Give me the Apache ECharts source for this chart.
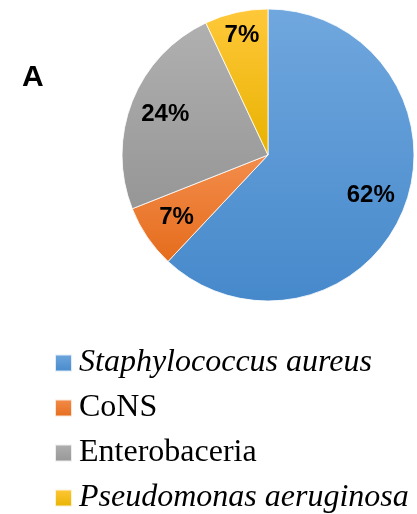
<!DOCTYPE html>
<html>
<head>
<meta charset="utf-8">
<script src="https://cdn.jsdelivr.net/npm/echarts@6/dist/echarts.min.js"></script>
<style>
  html, body { margin: 0; padding: 0; background: #fff; }
  #chart { width: 417px; height: 514px; }
</style>
</head>
<body>
<div id="chart"></div>
<script>
// data
const categories = ['Staphylococcus aureus', 'CoNS', 'Enterobaceria', 'Pseudomonas aeruginosa'];
const values = [62, 7, 24, 7];
const italicNames = ['Staphylococcus aureus', 'Pseudomonas aeruginosa'];

// top / bottom colours of each slice gradient
const sliceColors = [
    ['#70a7de', '#4689cb'],
    ['#f38d4c', '#e56c1c'],
    ['#b0b0b0', '#969696'],
    ['#ffc83a', '#e8b200']
];

const chart = echarts.init(document.getElementById('chart'));

function grad(i) {
    return new echarts.graphic.LinearGradient(0, 0, 0, 1, [
        { offset: 0, color: sliceColors[i][0] },
        { offset: 1, color: sliceColors[i][1] }
    ]);
}

const pieData = categories.map((name, i) => ({
    name: name,
    value: values[i],
    itemStyle: { color: grad(i) }
}));

// transparent ring only used to place the labels further out
const labelData = categories.map((name, i) => {
    const d = { name: name, value: values[i] };
    if (i === 3) d.label = { offset: [-2, -12] };
    return d;
});

const option = {
    animation: false,
    title: {
        text: 'A',
        left: 17,
        top: 58,
        textStyle: { fontFamily: 'Liberation Sans, Arial', fontWeight: 'bold', fontSize: 30, color: '#000' }
    },
    legend: {
        orient: 'vertical',
        left: 54,
        top: 347,
        height: 230,
        padding: 0,
        icon: 'rect',
        itemWidth: 17,
        itemHeight: 17,
        itemGap: 13,
        selectedMode: false,
        data: categories,
        formatter: function (name) {
            return italicNames.indexOf(name) >= 0 ? '{i|' + name + '}' : '{n|' + name + '}';
        },
        textStyle: {
            padding: [0, 0, 0, 2],
            fontSize: 32,
            lineHeight: 32,
            rich: {
                i: { fontFamily: 'Liberation Serif, Times New Roman', fontStyle: 'italic', fontSize: 32, color: '#000', lineHeight: 32 },
                n: { fontFamily: 'Liberation Serif, Times New Roman', fontSize: 32, color: '#000', lineHeight: 32 }
            }
        }
    },
    series: [
        {
            type: 'pie',
            center: [268, 155],
            radius: [0, 146],
            startAngle: 90,
            clockwise: true,
            silent: true,
            label: { show: false },
            labelLine: { show: false },
            itemStyle: { borderColor: 'rgba(255,255,255,0.8)', borderWidth: 1 },
            data: pieData
        },
        {
            type: 'pie',
            center: [268, 155],
            radius: [69, 146],
            startAngle: 90,
            clockwise: true,
            silent: true,
            itemStyle: { color: 'rgba(0,0,0,0)' },
            label: {
                show: true,
                position: 'inside',
                formatter: '{c}%',
                fontFamily: 'Liberation Sans, Arial',
                fontWeight: 'bold',
                fontSize: 24,
                color: '#000'
            },
            labelLine: { show: false },
            data: labelData
        }
    ]
};

chart.setOption(option);
</script>
</body>
</html>
